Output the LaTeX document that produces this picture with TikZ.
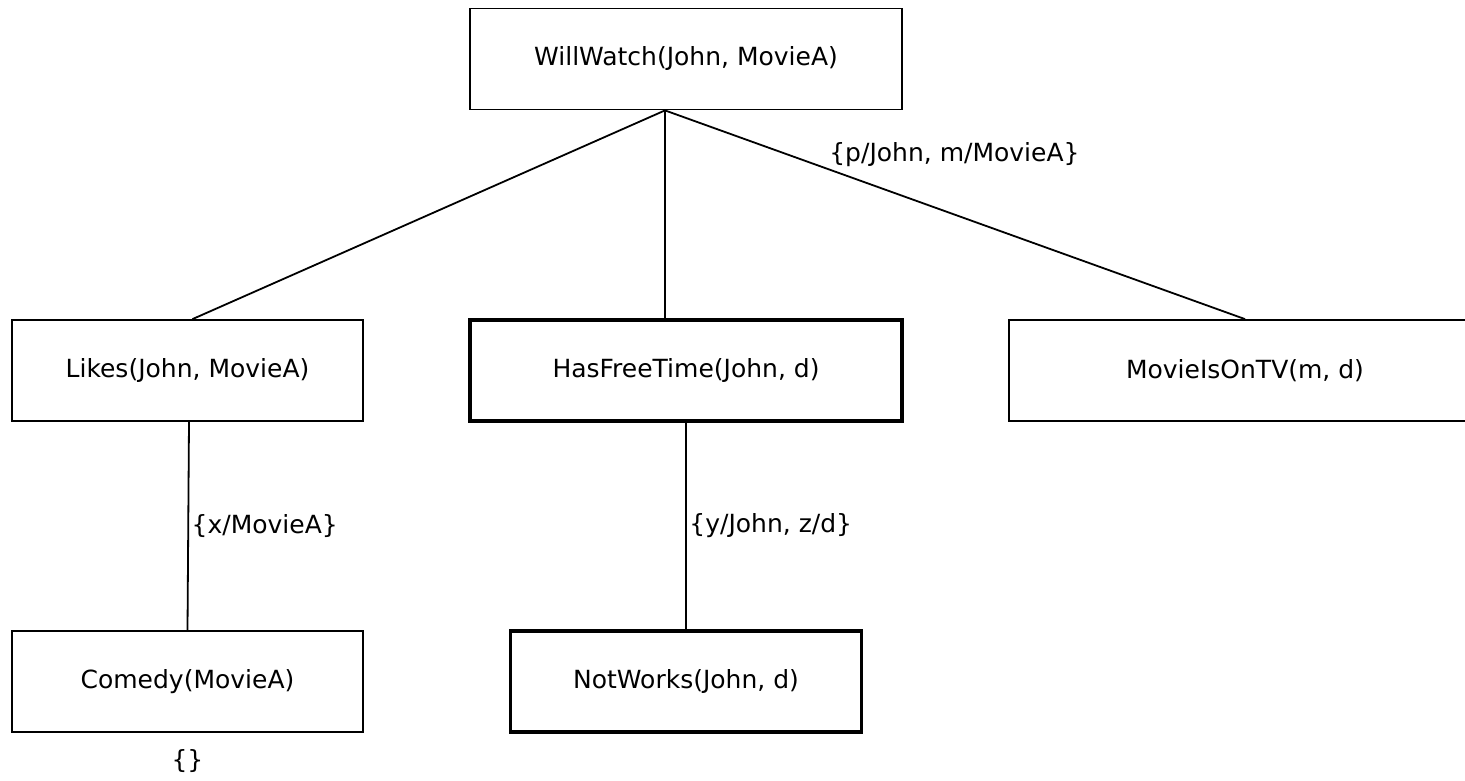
\documentclass[tikz,border=0pt]{standalone}
\usepackage{fontspec}
\setmainfont{DejaVu Sans}
\usetikzlibrary{positioning}

\begin{document}
\begin{tikzpicture}[
    x=1pt, y=-1pt,
    pbox/.style={draw, line width=1.8pt, inner sep=0, minimum height=101pt, font=\fontsize{25}{30}\selectfont},
    wbox/.style={pbox, minimum width=432pt},
    nbox/.style={pbox, minimum width=351pt},
    hbox/.style={line width=3.5pt},
    tedge/.style={line width=1.8pt, draw=black},
    slabel/.style={font=\fontsize{25}{30}\selectfont, inner sep=0.1em}
]
\useasboundingbox (0,0) rectangle (1465,780);

% goal
\node[wbox] (willwatch) at (686,59) {WillWatch(John, MovieA)};
\coordinate (split) at ([xshift=-21pt]willwatch.south);

% subgoals
\node[nbox] (likes) at (187.5,370.5) {Likes(John, MovieA)};
\node[wbox, hbox] (freetime) at (686,370.5) {HasFreeTime(John, d)};
\node[wbox, minimum width=472pt] (ontv) at (1245,370.5) {MovieIsOnTV(m, d)};

% leaves
\node[nbox] (comedy) at (187.5,681.5) {Comedy(MovieA)};
\node[nbox, hbox] (notworks) at (686,681.5) {NotWorks(John, d)};
\node[slabel, below=1.55em of comedy] (empty) {\{\}};

% edges
\draw[tedge] (split) -- ([xshift=5pt]likes.north);
\draw[tedge] (split) -- (split |- freetime.north);
\draw[tedge] (split) -- (ontv.north)
    node[slabel, pos=0.28, anchor=south west, xshift=0pt, yshift=0pt] (ontvsub) {\{p/John, m/MovieA\}};
\draw[tedge] ([xshift=1.5pt]likes.south) -- (comedy.north)
    node[slabel, midway, right=0.15em] (likessub) {\{x/MovieA\}};
\draw[tedge] (freetime.south) -- (notworks.north)
    node[slabel, midway, right=0.15em] (freesub) {\{y/John, z/d\}};

\end{tikzpicture}
\end{document}
